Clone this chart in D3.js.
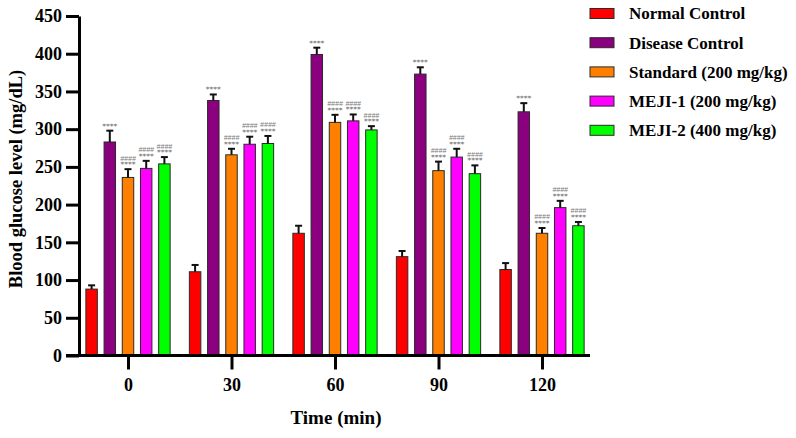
<!DOCTYPE html>
<html>
<head>
<meta charset="utf-8">
<script src="https://cdn.jsdelivr.net/npm/d3@7"></script>
<style>
  body { margin: 0; background: #fff; }
  svg { display: block; }
</style>
</head>
<body>
<div id="chart"></div>
<script>
// time points on the x axis
const timePoints = ["0", "30", "60", "90", "120"];

// groups (legend order)
const groups = ["Normal Control", "Disease Control", "Standard (200 mg/kg)", "MEJI-1 (200 mg/kg)", "MEJI-2 (400 mg/kg)"];
const groupColors = ["#ff0000", "#8b007f", "#ff8000", "#ff00ff", "#00ff00"];

// mean blood glucose per group, one value per time point
const normalMean   = [88, 111, 162, 131, 114];
const diseaseMean  = [283, 338, 399, 373, 323];
const standardMean = [236, 266, 309, 245, 162];
const meji1Mean    = [248, 280, 311, 263, 196];
const meji2Mean    = [254, 281, 299, 241, 172];

// error (upper whisker) per group
const normalErr   = [5, 9, 10, 7.5, 8.5];
const diseaseErr  = [15, 8, 9, 9, 11.5];
const standardErr = [11, 8, 10, 12, 7];
const meji1Err    = [10, 10, 8.5, 11, 9];
const meji2Err    = [9, 10, 5, 11, 5];

// significance marks per group
const starMarks = ["", "****", "****", "****", "****"];
const hashMarks = ["", "", "####", "####", "####"];

const yTicks = [0, 50, 100, 150, 200, 250, 300, 350, 400, 450];

const means = [normalMean, diseaseMean, standardMean, meji1Mean, meji2Mean];
const errs = [normalErr, diseaseErr, standardErr, meji1Err, meji2Err];

const width = 796, height = 438;
const axisX = 79, axisY = 355.5, xEnd = 590;

const svg = d3.select("#chart").append("svg")
  .attr("width", width)
  .attr("height", height);

const serif = "'Liberation Serif', 'Times New Roman', serif";

const y = d3.scaleLinear().domain([0, 450]).range([axisY, 16]);

const x0 = d3.scalePoint().domain(timePoints).range([128, 542]);

const x1 = d3.scaleBand()
  .domain(groups)
  .range([-45.5, 45.5])
  .paddingInner(0.37)
  .paddingOuter(0.185);

// flatten the data for drawing
const bars = [];
timePoints.forEach((t, ti) => {
  groups.forEach((g, gi) => {
    bars.push({
      t: t, g: g, gi: gi,
      mean: means[gi][ti],
      err: errs[gi][ti],
      star: starMarks[gi],
      hash: hashMarks[gi]
    });
  });
});

const cx = d => x0(d.t) + x1(d.g) + x1.bandwidth() / 2;

// bars
svg.append("g").selectAll("rect")
  .data(bars)
  .enter()
  .append("rect")
  .attr("x", d => x0(d.t) + x1(d.g))
  .attr("y", d => y(d.mean))
  .attr("width", x1.bandwidth())
  .attr("height", d => y(0) - y(d.mean))
  .attr("fill", d => groupColors[d.gi])
  .attr("stroke", "#2a2a2a")
  .attr("stroke-width", 1);

// error bars (upper only)
const eb = svg.append("g")
  .attr("stroke", "#111")
  .attr("stroke-width", 2);

eb.selectAll("line.v")
  .data(bars)
  .enter()
  .append("line")
  .attr("class", "v")
  .attr("x1", cx)
  .attr("x2", cx)
  .attr("y1", d => y(d.mean))
  .attr("y2", d => y(d.mean + d.err));

eb.selectAll("line.cap")
  .data(bars)
  .enter()
  .append("line")
  .attr("class", "cap")
  .attr("x1", d => cx(d) - 3.5)
  .attr("x2", d => cx(d) + 3.5)
  .attr("y1", d => y(d.mean + d.err))
  .attr("y2", d => y(d.mean + d.err));

// significance text
svg.append("g").selectAll("text")
  .data(bars.filter(d => d.star))
  .enter()
  .append("text")
  .attr("x", cx)
  .attr("y", d => y(d.mean + d.err) - 2)
  .attr("text-anchor", "middle")
  .style("font-family", "'DejaVu Sans', sans-serif")
  .style("font-size", "7.5px")
  .style("fill", "#666")
  .text(d => d.star);

svg.append("g").selectAll("text")
  .data(bars.filter(d => d.hash))
  .enter()
  .append("text")
  .attr("x", cx)
  .attr("y", d => y(d.mean + d.err) - 8.5)
  .attr("text-anchor", "middle")
  .style("font-family", "'Liberation Sans', Arial, sans-serif")
  .style("font-style", "italic")
  .style("font-size", "7px")
  .style("fill", "#777")
  .text(d => d.hash);

// Y axis
const yAxis = svg.append("g")
  .attr("transform", `translate(${axisX},0)`)
  .call(d3.axisLeft(y).tickValues(yTicks).tickSize(13).tickSizeOuter(0).tickPadding(4));

yAxis.select(".domain").attr("stroke", "#000").attr("stroke-width", 3);
yAxis.selectAll(".tick line").attr("stroke", "#000").attr("stroke-width", 3);
yAxis.selectAll(".tick text")
  .style("font-family", serif)
  .style("font-weight", "bold")
  .style("font-size", "18px")
  .attr("fill", "#000");

// X axis: long baseline plus ticks at time points
svg.append("line")
  .attr("x1", axisX - 13)
  .attr("x2", xEnd)
  .attr("y1", axisY)
  .attr("y2", axisY)
  .attr("stroke", "#000")
  .attr("stroke-width", 3);

const xAxis = svg.append("g")
  .attr("transform", `translate(0,${axisY})`)
  .call(d3.axisBottom(x0).tickSize(14).tickSizeOuter(0).tickPadding(9));

xAxis.select(".domain").remove();
xAxis.selectAll(".tick line").attr("stroke", "#000").attr("stroke-width", 3);
xAxis.selectAll(".tick text")
  .style("font-family", serif)
  .style("font-weight", "bold")
  .style("font-size", "18px")
  .attr("fill", "#000");

// axis titles
svg.append("text")
  .attr("x", 336)
  .attr("y", 424)
  .attr("text-anchor", "middle")
  .style("font-family", serif)
  .style("font-weight", "bold")
  .style("font-size", "19px")
  .text("Time (min)");

svg.append("text")
  .attr("transform", "translate(22,179) rotate(-90)")
  .attr("text-anchor", "middle")
  .style("font-family", serif)
  .style("font-weight", "bold")
  .style("font-size", "18.5px")
  .text("Blood glucose level (mg/dL)");

// legend
const legend = svg.append("g")
  .attr("transform", "translate(590,13.5)");

const legendItems = legend.selectAll("g")
  .data(groups)
  .enter()
  .append("g")
  .attr("transform", (d, i) => `translate(0,${i * 29.2})`);

legendItems.append("rect")
  .attr("x", 0)
  .attr("y", -5)
  .attr("width", 24)
  .attr("height", 10)
  .attr("fill", (d, i) => groupColors[i])
  .attr("stroke", "#2a2a2a")
  .attr("stroke-width", 1);

legendItems.append("text")
  .attr("x", 39)
  .attr("y", 0)
  .attr("dy", "0.35em")
  .style("font-family", serif)
  .style("font-weight", "bold")
  .style("font-size", "17px")
  .text(d => d);
</script>
</body>
</html>
